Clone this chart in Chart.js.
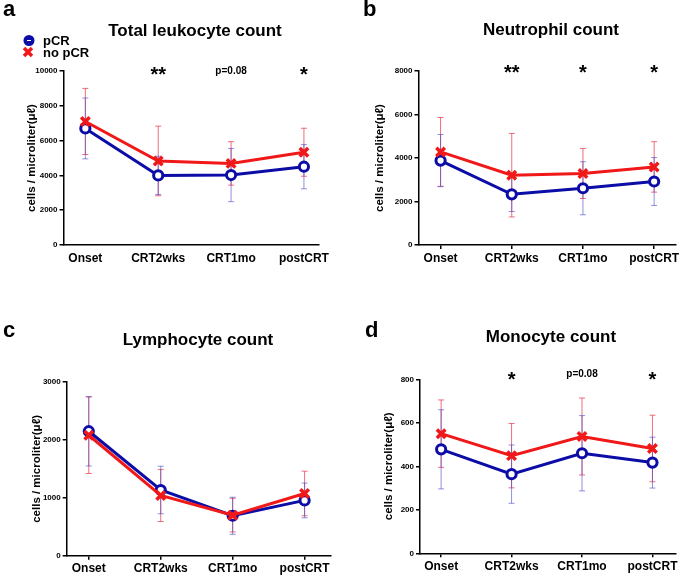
<!DOCTYPE html>
<html>
<head>
<meta charset="utf-8">
<script src="https://cdn.jsdelivr.net/npm/chart.js@4"></script>
<style>
  body { margin: 0; background: #fff; width: 685px; height: 575px; position: relative; overflow: hidden;
         font-family: "Liberation Sans", Arial, sans-serif; color: #000; }
  canvas { position: absolute; }
  .t { position: absolute; font-weight: bold; line-height: 1; white-space: nowrap; }
  .title { font-size: 17px; width: 300px; text-align: center; }
  .letter { font-size: 22px; }
  .leg { font-size: 13px; }
</style>
</head>
<body>
<canvas id="chartA" width="340" height="290" style="left:0;top:0"></canvas>
<canvas id="chartB" width="345" height="290" style="left:340px;top:0"></canvas>
<canvas id="chartC" width="340" height="285" style="left:0;top:290px"></canvas>
<canvas id="chartD" width="345" height="285" style="left:340px;top:290px"></canvas>

<div class="t letter" style="left:3px;top:-2px">a</div>
<div class="t letter" style="left:363px;top:-2px">b</div>
<div class="t letter" style="left:3px;top:319px">c</div>
<div class="t letter" style="left:365px;top:319px">d</div>

<div class="t title" style="left:45px;top:22px">Total leukocyte count</div>
<div class="t title" style="left:401px;top:21px">Neutrophil count</div>
<div class="t title" style="left:48px;top:331px">Lymphocyte count</div>
<div class="t title" style="left:401px;top:328px">Monocyte count</div>

<div class="t leg" style="left:43px;top:34px">pCR</div>
<div class="t leg" style="left:43px;top:46px">no pCR</div>

<script>
const categories = ["Onset", "CRT2wks", "CRT1mo", "postCRT"];

// a: total leukocytes
const leukoPCR = [6700, 4000, 4020, 4500];
const leukoPCRsd = [1750, 1100, 1530, 1270];
const leukoNoPCR = [7100, 4830, 4690, 5330];
const leukoNoPCRsd = [1900, 2000, 1250, 1380];
const leukoTicks = [0, 2000, 4000, 6000, 8000, 10000];
const leukoMarks = ["", "**", "p=0.08", "*"];

// b: neutrophils
const neutroPCR = [3880, 2330, 2610, 2920];
const neutroPCRsd = [1200, 790, 1220, 1100];
const neutroNoPCR = [4280, 3210, 3290, 3590];
const neutroNoPCRsd = [1580, 1920, 1150, 1160];
const neutroTicks = [0, 2000, 4000, 6000, 8000];
const neutroMarks = ["", "**", "*", "*"];

// c: lymphocytes
const lymphoPCR = [2150, 1135, 690, 955];
const lymphoPCRsd = [600, 410, 320, 300];
const lymphoNoPCR = [2080, 1040, 700, 1075];
const lymphoNoPCRsd = [660, 450, 290, 385];
const lymphoTicks = [0, 1000, 2000, 3000];
const lymphoMarks = ["", "", "", ""];

// d: monocytes
const monoPCR = [478, 364, 460, 417];
const monoPCRsd = [182, 134, 173, 117];
const monoNoPCR = [550, 449, 537, 482];
const monoNoPCRsd = [155, 148, 177, 153];
const monoTicks = [0, 200, 400, 600, 800];
const monoMarks = ["", "*", "p=0.08", "*"];

const BLUE = "#0c0ca6";
const RED = "#f01818";
const FONT = "'Liberation Sans', Arial, sans-serif";

const errorBars = {
  id: "errorBars",
  beforeDatasetsDraw(chart) {
    const ctx = chart.ctx;
    const x = chart.scales.x, y = chart.scales.y;
    ctx.save();
    chart.data.datasets.forEach(ds => {
      ctx.strokeStyle = ds.errColor;
      ctx.lineWidth = 1;
      ds.data.forEach((p, i) => {
        const px = x.getPixelForValue(p.x);
        const top = y.getPixelForValue(p.y + ds.sd[i]);
        const bot = y.getPixelForValue(p.y - ds.sd[i]);
        ctx.beginPath();
        ctx.moveTo(px, top); ctx.lineTo(px, bot);
        ctx.moveTo(px - 3, top); ctx.lineTo(px + 3, top);
        ctx.moveTo(px - 3, bot); ctx.lineTo(px + 3, bot);
        ctx.stroke();
      });
    });
    ctx.restore();
  }
};

const marksPlugin = {
  id: "marks",
  afterDraw(chart, args, opts) {
    const ctx = chart.ctx;
    const x = chart.scales.x;
    const top = chart.chartArea.top;
    ctx.save();
    ctx.fillStyle = "#000";
    ctx.textAlign = "center";
    ctx.textBaseline = "alphabetic";
    opts.marks.forEach((m, i) => {
      if (!m) return;
      const px = x.getPixelForValue(i);
      if (m.startsWith("p")) {
        ctx.font = "bold 10px " + FONT;
        ctx.fillText(m, px, top + opts.pOff);
      } else {
        ctx.font = "bold 20px " + FONT;
        ctx.fillText(m, px, top + opts.starOff);
      }
    });
    if (opts.legend) {
      ctx.fillStyle = BLUE;
      ctx.beginPath();
      ctx.arc(29, 40.5, 5.5, 0, Math.PI * 2);
      ctx.fill();
      ctx.strokeStyle = "#fff";
      ctx.lineWidth = 1;
      ctx.beginPath();
      ctx.moveTo(27, 40.5); ctx.lineTo(31, 40.5);
      ctx.stroke();
      ctx.strokeStyle = RED;
      ctx.lineWidth = 3.5;
      ctx.beginPath();
      ctx.moveTo(24, 48); ctx.lineTo(32, 56);
      ctx.moveTo(32, 48); ctx.lineTo(24, 56);
      ctx.stroke();
    }
    ctx.restore();
  }
};

function makeChart(el, p) {
  return new Chart(document.getElementById(el), {
    type: "line",
    data: {
      datasets: [
        {
          label: "no pCR",
          data: p.noPcr.map((v, i) => ({ x: i, y: v })),
          sd: p.noPcrSd,
          errColor: "rgba(235,60,80,0.75)",
          borderColor: RED,
          borderWidth: 3,
          pointStyle: "crossRot",
          pointRadius: 6,
          pointBorderWidth: 3.5,
          pointBorderColor: RED,
          pointBackgroundColor: RED,
          order: 0,
        },
        {
          label: "pCR",
          data: p.pcr.map((v, i) => ({ x: i, y: v })),
          sd: p.pcrSd,
          errColor: "rgba(70,70,200,0.6)",
          borderColor: BLUE,
          borderWidth: 3,
          pointStyle: "circle",
          pointRadius: 4.6,
          pointBorderWidth: 3,
          pointBorderColor: BLUE,
          pointBackgroundColor: "#fff",
          order: 1,
        },
      ],
    },
    options: {
      responsive: false,
      animation: false,
      devicePixelRatio: 1,
      layout: { padding: { left: p.padLeft, top: p.padTop, right: p.padRight, bottom: 0 } },
      plugins: {
        legend: { display: false },
        tooltip: { enabled: false },
        marks: { marks: p.marks, starOff: p.starOff, pOff: p.pOff, legend: p.legend },
      },
      scales: {
        x: {
          type: "linear",
          min: p.xMin,
          max: p.xMax,
          afterBuildTicks: s => { s.ticks = categories.map((c, i) => ({ value: i })); },
          afterFit: s => { s.height = p.xHeight; s.paddingLeft = 0; s.paddingRight = 0; },
          ticks: {
            callback: v => categories[v],
            color: "#000",
            font: { family: FONT, size: 12, weight: "bold" },
            padding: p.xTicks ? 2 : 6,
            maxRotation: 0,
            autoSkip: false,
          },
          grid: { drawOnChartArea: false, drawTicks: p.xTicks, tickLength: 4, color: "#000", lineWidth: 1.5 },
          border: { display: true, color: "#000", width: 1.5 },
        },
        y: {
          min: p.ticks[0],
          max: p.ticks[p.ticks.length - 1],
          afterBuildTicks: s => { s.ticks = p.ticks.map(v => ({ value: v })); },
          afterFit: s => { s.width = p.yWidth; s.paddingTop = 0; s.paddingBottom = 0; },
          ticks: {
            color: "#000",
            font: { family: FONT, size: 8, weight: "bold" },
            padding: 2,
            callback: v => String(v),
          },
          grid: { drawOnChartArea: false, drawTicks: true, tickLength: 4, color: "#000", lineWidth: 1.5 },
          border: { display: true, color: "#000", width: 1.5 },
          title: {
            display: true,
            text: "cells / microliter(μℓ)",
            color: "#000",
            font: { family: FONT, size: 11.5, weight: "bold" },
            padding: { top: 0, bottom: 0 },
          },
        },
      },
    },
    plugins: [errorBars, marksPlugin],
  });
}

makeChart("chartA", {
  pcr: leukoPCR, pcrSd: leukoPCRsd, noPcr: leukoNoPCR, noPcrSd: leukoNoPCRsd,
  ticks: leukoTicks, marks: leukoMarks, legend: true, xTicks: false,
  padLeft: 25.4, yWidth: 38.1, padTop: 71, padRight: 21.5, xHeight: 45,
  xMin: -0.30, xMax: 3.2, starOff: 10, pOff: 3,
});
makeChart("chartB", {
  pcr: neutroPCR, pcrSd: neutroPCRsd, noPcr: neutroNoPCR, noPcrSd: neutroNoPCRsd,
  ticks: neutroTicks, marks: neutroMarks, legend: false, xTicks: true,
  padLeft: 33.1, yWidth: 45.4, padTop: 71, padRight: 4, xHeight: 45,
  xMin: -0.31, xMax: 3.30, starOff: 8, pOff: 3,
});
makeChart("chartC", {
  pcr: lymphoPCR, pcrSd: lymphoPCRsd, noPcr: lymphoNoPCR, noPcrSd: lymphoNoPCRsd,
  ticks: lymphoTicks, marks: lymphoMarks, legend: false, xTicks: true,
  padLeft: 30.4, yWidth: 36.3, padTop: 92, padRight: 7, xHeight: 19.3,
  xMin: -0.307, xMax: 3.36, starOff: 8, pOff: 3,
});
makeChart("chartD", {
  pcr: monoPCR, pcrSd: monoPCRsd, noPcr: monoNoPCR, noPcrSd: monoNoPCRsd,
  ticks: monoTicks, marks: monoMarks, legend: false, xTicks: true,
  padLeft: 42.4, yWidth: 37.6, padTop: 89.3, padRight: 2, xHeight: 21.7,
  xMin: -0.30, xMax: 3.327, starOff: 6.7, pOff: -2,
});
</script>
</body>
</html>
